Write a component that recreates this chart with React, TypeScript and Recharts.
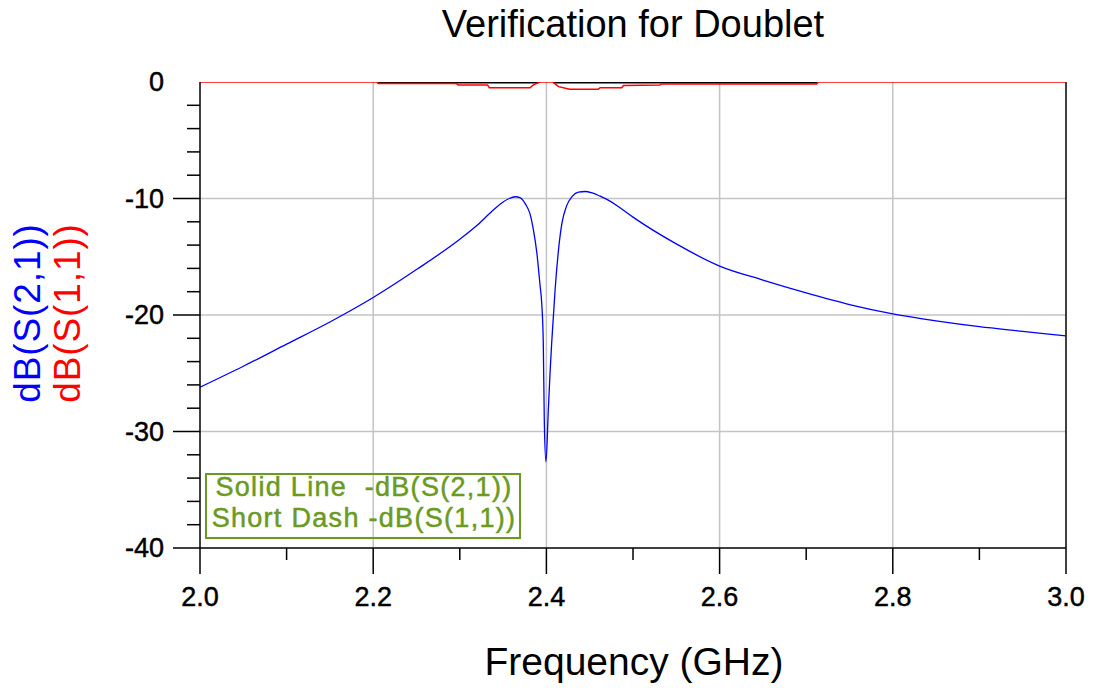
import { LineChart, Line, XAxis, YAxis, CartesianGrid, ReferenceLine } from "recharts";

// frequency (GHz) / dB
const s21Freq = [
  2.0, 2.05, 2.1, 2.15, 2.2, 2.25, 2.3, 2.32, 2.34, 2.35, 2.357, 2.364, 2.37, 2.376,
  2.381, 2.385, 2.389, 2.3926, 2.3946, 2.3964, 2.3976, 2.3995, 2.4022, 2.4042, 2.4061,
  2.408, 2.41, 2.414, 2.418, 2.423, 2.43, 2.437, 2.445, 2.452, 2.462, 2.473, 2.485, 2.5,
  2.55, 2.6, 2.65, 2.7, 2.75, 2.8, 2.85, 2.9, 2.95, 3.0,
];
const s21dB = [
  -26.2, -24.4, -22.5, -20.6, -18.5, -16.1, -13.5, -12.3, -10.9, -10.3, -10.0, -9.85,
  -9.95, -10.5, -11.3, -12.7, -14.7, -17.4, -19.0, -22.4, -29.2, -32.6, -28.2, -25.0,
  -22.4, -20.2, -17.9, -14.4, -12.1, -10.7, -9.8, -9.45, -9.4, -9.5, -9.8, -10.2,
  -10.8, -11.6, -13.9, -15.8, -17.0, -18.1, -19.1, -19.9, -20.5, -21.0, -21.4, -21.8,
];

const s11Freq = [
  2.0, 2.204, 2.206, 2.296, 2.298, 2.332, 2.334, 2.381, 2.385, 2.391, 2.393, 2.407,
  2.409, 2.414, 2.427, 2.46, 2.462, 2.487, 2.489, 2.531, 2.533, 2.712, 2.714, 3.0,
];
const s11dB = [
  0, 0, -0.12, -0.12, -0.25, -0.25, -0.49, -0.49, -0.25, -0.05, 0, 0, -0.1, -0.4,
  -0.63, -0.63, -0.49, -0.49, -0.3, -0.26, -0.17, -0.17, 0, 0,
];

// black trace hugging 0 dB
const blackFreq = [2.205, 2.391, 2.408, 2.713];
const blackdB = [-0.03, -0.03, -0.03, -0.03];

const xTicks = [2.0, 2.1, 2.2, 2.3, 2.4, 2.5, 2.6, 2.7, 2.8, 2.9, 3.0];
const yTicks = [-40, -38, -36, -34, -32, -30, -28, -26, -24, -22, -20, -18, -16, -14, -12, -10, -8, -6, -4, -2, 0];
const xGrid = [2.2, 2.4, 2.6, 2.8];
const yGrid = [-10, -20, -30];

const s21Data = s21Freq.map((f, i) => ({ f, v: s21dB[i] }));
const s11Data = s11Freq.map((f, i) => ({ f, v: s11dB[i] }));
const blackData = [
  { f: blackFreq[0], v: blackdB[0] },
  { f: blackFreq[1], v: blackdB[1] },
  { f: (blackFreq[1] + blackFreq[2]) / 2, v: null },
  { f: blackFreq[2], v: blackdB[2] },
  { f: blackFreq[3], v: blackdB[3] },
];

const FONT = "'Liberation Sans', Arial, sans-serif";
const tickText = { fontSize: 27, fontFamily: FONT, fill: "#000", stroke: "#000", strokeWidth: 0.45 };

const YTick = ({ x, y, payload }: any) => {
  const major = payload.value % 10 === 0;
  return (
    <g>
      {payload.value !== 0 && (
        <line x1={x - (major ? 27 : 13)} x2={x} y1={y} y2={y} stroke="#000" strokeWidth={1.5} />
      )}
      {major && (
        <text x={x - 36} y={y} textAnchor="end" dominantBaseline="central" style={tickText}>
          {payload.value}
        </text>
      )}
    </g>
  );
};

const XTick = ({ x, y, payload }: any) => {
  const major = Math.round(payload.value * 10) % 2 === 0;
  return (
    <g>
      <line x1={x} x2={x} y1={y} y2={y + (major ? 26 : 12)} stroke="#000" strokeWidth={1.5} />
      {major && (
        <text x={x} y={y + 49} textAnchor="middle" dominantBaseline="central" style={tickText}>
          {payload.value.toFixed(1)}
        </text>
      )}
    </g>
  );
};

const legendText = {
  fontSize: 27, fontFamily: FONT, fill: "#6b9a22", stroke: "#6b9a22", strokeWidth: 0.5,
  letterSpacing: 1.3, whiteSpace: "pre" as const,
};

export default function App() {
  return (
    <div style={{ position: "absolute", left: 0, top: 0, width: 1094, height: 688, background: "#fff" }}>
      <LineChart width={1094} height={688} data={s21Data}
        margin={{ top: 82, right: 28, bottom: 110, left: 140 }}>
        <CartesianGrid horizontalValues={yGrid} verticalValues={xGrid}
          stroke="#c4c4c4" strokeWidth={1.5} />
        <XAxis dataKey="f" type="number" domain={[2, 3]} ticks={xTicks} allowDataOverflow
          height={30} tickSize={0} tickMargin={0} tickLine={false} tick={<XTick />}
          axisLine={{ stroke: "#000", strokeWidth: 1.5 }} interval={0} />
        <YAxis type="number" domain={[-40, 0]} ticks={yTicks} allowDataOverflow
          width={60} tickSize={0} tickMargin={0} tickLine={false} tick={<YTick />}
          axisLine={{ stroke: "#000", strokeWidth: 1.5 }} interval={0} />
        <ReferenceLine x={3} stroke="#000" strokeWidth={1.5} />
        <Line data={blackData} dataKey="v" type="linear" stroke="#000" strokeWidth={2.2}
          dot={false} isAnimationActive={false} connectNulls={false} />
        <Line data={s11Data} dataKey="v" type="linear" stroke="#ff0000" strokeWidth={1.5}
          dot={false} isAnimationActive={false} />
        <Line data={s21Data} dataKey="v" type="monotone" stroke="#0000ff" strokeWidth={1.3}
          dot={false} isAnimationActive={false} />
      </LineChart>
      <svg width={1094} height={688} style={{ position: "absolute", left: 0, top: 0, pointerEvents: "none" }}>
        <text x={633} y={37} textAnchor="middle" style={{ fontSize: 38, fontFamily: FONT, fill: "#000" }}>
          Verification for Doublet
        </text>
        <text x={634} y={675} textAnchor="middle" style={{ fontSize: 39, fontFamily: FONT, fill: "#000" }}>
          Frequency (GHz)
        </text>
        <text transform="translate(27,313) rotate(-90)" textAnchor="middle" dominantBaseline="central"
          style={{ fontSize: 37, fontFamily: FONT, fill: "#0000ff", letterSpacing: 0.9 }}>
          dB(S(2,1))
        </text>
        <text transform="translate(67,313) rotate(-90)" textAnchor="middle" dominantBaseline="central"
          style={{ fontSize: 37, fontFamily: FONT, fill: "#ff0000", letterSpacing: 0.9 }}>
          dB(S(1,1))
        </text>
        <rect x={206} y={474} width={314} height={64} fill="none" stroke="#6b9a22" strokeWidth={2} />
        <text x={364} y={496} textAnchor="middle" style={legendText}>
          {"Solid Line  -dB(S(2,1))"}
        </text>
        <text x={364} y={527} textAnchor="middle" style={legendText}>
          Short Dash -dB(S(1,1))
        </text>
      </svg>
    </div>
  );
}
